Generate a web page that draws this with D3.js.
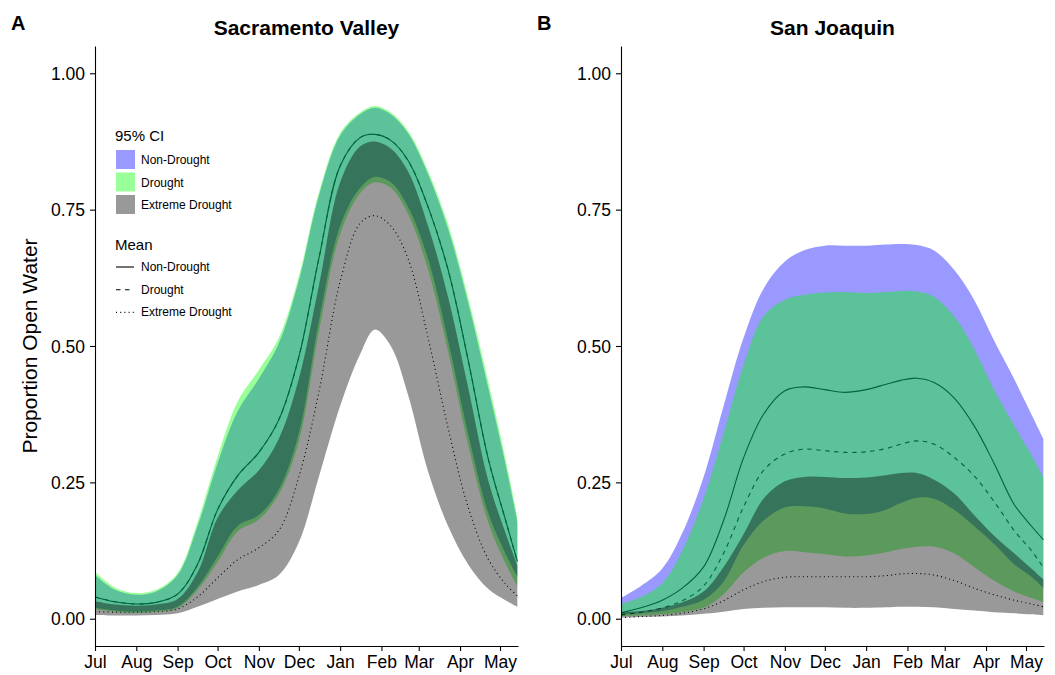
<!DOCTYPE html>
<html>
<head>
<meta charset="utf-8">
<script src="https://cdn.jsdelivr.net/npm/d3@7"></script>
<style>
  body { margin: 0; background: #fff; }
  svg { display: block; }
  text { font-family: "Liberation Sans", Arial, sans-serif; fill: #000; }
</style>
</head>
<body>
<svg width="1055" height="675"></svg>
<script>
const monthLabels = ["Jul", "Aug", "Sep", "Oct", "Nov", "Dec", "Jan", "Feb", "Mar", "Apr", "May"]
const yTicks = [0, 0.25, 0.5, 0.75, 1]
const seasons = ["Non-Drought", "Drought", "Extreme Drought"]
const panelTitles = ["Sacramento Valley", "San Joaquin"]
const panelTags = ["A", "B"]
// days after 1 July at which the curves were read
const sampleDays = [0, 15, 31, 46, 62, 77, 92, 107, 123, 138, 153, 168, 184, 199, 210, 222, 235, 250, 265, 280, 295, 308, 317]

// Sacramento Valley
const sacNonDroughtMean = [0.040, 0.031, 0.027, 0.030, 0.045, 0.100, 0.200, 0.262, 0.305, 0.365, 0.480, 0.660, 0.830, 0.882, 0.888, 0.877, 0.840, 0.755, 0.640, 0.475, 0.295, 0.182, 0.105]
const sacNonDroughtLower = [0.020, 0.015, 0.013, 0.015, 0.022, 0.058, 0.114, 0.170, 0.190, 0.237, 0.340, 0.545, 0.720, 0.790, 0.810, 0.800, 0.755, 0.660, 0.510, 0.340, 0.195, 0.120, 0.077]
const sacNonDroughtUpper = [0.080, 0.053, 0.044, 0.050, 0.080, 0.170, 0.285, 0.380, 0.440, 0.505, 0.620, 0.775, 0.886, 0.925, 0.937, 0.925, 0.890, 0.815, 0.715, 0.580, 0.425, 0.285, 0.178]
const sacDroughtMean = [0.040, 0.031, 0.027, 0.030, 0.045, 0.100, 0.200, 0.262, 0.305, 0.365, 0.480, 0.660, 0.830, 0.882, 0.888, 0.877, 0.840, 0.755, 0.640, 0.475, 0.295, 0.182, 0.105]
const sacDroughtLower = [0.018, 0.013, 0.011, 0.013, 0.019, 0.053, 0.104, 0.160, 0.182, 0.228, 0.325, 0.525, 0.705, 0.780, 0.800, 0.790, 0.742, 0.640, 0.490, 0.320, 0.178, 0.102, 0.060]
const sacDroughtUpper = [0.086, 0.057, 0.047, 0.053, 0.084, 0.178, 0.297, 0.398, 0.456, 0.515, 0.628, 0.781, 0.890, 0.928, 0.940, 0.928, 0.894, 0.821, 0.723, 0.590, 0.437, 0.295, 0.186]
const sacExtremeMean = [0.013, 0.012, 0.012, 0.013, 0.018, 0.040, 0.075, 0.108, 0.130, 0.162, 0.260, 0.415, 0.618, 0.725, 0.739, 0.720, 0.660, 0.515, 0.350, 0.205, 0.110, 0.064, 0.042]
const sacExtremeLower = [0.007, 0.006, 0.006, 0.007, 0.010, 0.022, 0.036, 0.050, 0.062, 0.080, 0.140, 0.260, 0.390, 0.485, 0.530, 0.500, 0.410, 0.270, 0.170, 0.100, 0.055, 0.034, 0.022]
const sacExtremeUpper = [0.032, 0.026, 0.024, 0.026, 0.036, 0.085, 0.185, 0.235, 0.272, 0.330, 0.440, 0.610, 0.800, 0.866, 0.875, 0.862, 0.820, 0.720, 0.590, 0.425, 0.255, 0.158, 0.098]

// San Joaquin
const sjNonDroughtMean = [0.011, 0.020, 0.034, 0.056, 0.095, 0.180, 0.295, 0.375, 0.418, 0.425, 0.420, 0.415, 0.420, 0.430, 0.437, 0.441, 0.433, 0.405, 0.354, 0.285, 0.210, 0.170, 0.145]
const sjNonDroughtLower = [0.008, 0.010, 0.014, 0.022, 0.035, 0.068, 0.135, 0.180, 0.204, 0.206, 0.202, 0.193, 0.192, 0.200, 0.212, 0.222, 0.220, 0.200, 0.170, 0.137, 0.100, 0.077, 0.057]
const sjNonDroughtUpper = [0.038, 0.060, 0.092, 0.157, 0.260, 0.390, 0.515, 0.605, 0.655, 0.676, 0.684, 0.684, 0.684, 0.686, 0.687, 0.685, 0.675, 0.640, 0.585, 0.510, 0.440, 0.375, 0.330]
const sjDroughtMean = [0.007, 0.012, 0.020, 0.033, 0.060, 0.120, 0.205, 0.272, 0.302, 0.311, 0.308, 0.305, 0.306, 0.312, 0.320, 0.326, 0.320, 0.296, 0.262, 0.215, 0.162, 0.125, 0.094]
const sjDroughtLower = [0.005, 0.006, 0.008, 0.012, 0.020, 0.045, 0.085, 0.112, 0.124, 0.122, 0.118, 0.114, 0.116, 0.122, 0.128, 0.132, 0.132, 0.120, 0.095, 0.070, 0.050, 0.038, 0.031]
const sjDroughtUpper = [0.027, 0.040, 0.065, 0.125, 0.220, 0.340, 0.465, 0.555, 0.585, 0.594, 0.598, 0.599, 0.597, 0.599, 0.601, 0.600, 0.590, 0.555, 0.495, 0.420, 0.355, 0.300, 0.260]
const sjExtremeMean = [0.002, 0.004, 0.006, 0.010, 0.018, 0.033, 0.053, 0.068, 0.076, 0.077, 0.077, 0.077, 0.077, 0.079, 0.082, 0.083, 0.080, 0.070, 0.056, 0.044, 0.034, 0.027, 0.022]
const sjExtremeLower = [0.002, 0.003, 0.004, 0.006, 0.009, 0.013, 0.018, 0.020, 0.021, 0.021, 0.021, 0.020, 0.020, 0.021, 0.022, 0.022, 0.021, 0.018, 0.015, 0.012, 0.010, 0.008, 0.006]
const sjExtremeUpper = [0.012, 0.014, 0.020, 0.030, 0.050, 0.095, 0.155, 0.220, 0.252, 0.260, 0.260, 0.258, 0.259, 0.263, 0.267, 0.267, 0.255, 0.230, 0.190, 0.152, 0.120, 0.092, 0.072]

const svg = d3.select("svg")
const width = +svg.attr("width")
const height = +svg.attr("height")

const fills = ["#0000ff", "#00ff00", "#000000"]
const dashes = [null, "4.5,4.5", "1,3.2"]
const panelLefts = [95, 621]
const margin = { top: 46, bottom: 29 }
const innerWidth = 423
const innerHeight = height - margin.top - margin.bottom

const start = new Date(Date.UTC(2014, 6, 1))
const end = new Date(start.getTime() + 317.5 * 864e5)
const dates = sampleDays.map((d) => d3.utcDay.offset(start, d))
const monthTicks = d3.utcMonth.range(start, end)

const xScale = d3.scaleUtc().domain([start, end]).range([0, innerWidth])
const yScale = d3.scaleLinear().domain([-0.05, 1.05]).range([innerHeight, 0])

const panelSeries = [
  {
    mean: [sacNonDroughtMean, sacDroughtMean, sacExtremeMean],
    lower: [sacNonDroughtLower, sacDroughtLower, sacExtremeLower],
    upper: [sacNonDroughtUpper, sacDroughtUpper, sacExtremeUpper]
  },
  {
    mean: [sjNonDroughtMean, sjDroughtMean, sjExtremeMean],
    lower: [sjNonDroughtLower, sjDroughtLower, sjExtremeLower],
    upper: [sjNonDroughtUpper, sjDroughtUpper, sjExtremeUpper]
  }
]

const line = d3
  .line()
  .x((d) => xScale(d.date))
  .y((d) => yScale(d.v))
  .curve(d3.curveCatmullRom)

const area = d3
  .area()
  .x((d) => xScale(d.date))
  .y0((d) => yScale(d.lo))
  .y1((d) => yScale(d.hi))
  .curve(d3.curveCatmullRom)

const renderPanel = (p) => {
  const series = panelSeries[p]
  const g = svg
    .append("g")
    .attr("transform", `translate(${panelLefts[p]},${margin.top})`)

  // means go underneath the ribbons, as in the original
  series.mean.forEach((vals, i) => {
    g.append("path")
      .datum(dates.map((date, j) => ({ date, v: vals[j] })))
      .attr("d", line)
      .attr("fill", "none")
      .attr("stroke", "#000")
      .attr("stroke-width", 1.1)
      .attr("stroke-dasharray", dashes[i])
  })

  series.lower.forEach((lows, i) => {
    g.append("path")
      .datum(dates.map((date, j) => ({ date, lo: lows[j], hi: series.upper[i][j] })))
      .attr("d", area)
      .attr("fill", fills[i])
      .attr("fill-opacity", 0.4)
  })

  const xAxis = d3
    .axisBottom(xScale)
    .tickValues(monthTicks)
    .tickFormat((d, i) => monthLabels[i])
    .tickSize(5)
    .tickSizeOuter(0)
  const yAxis = d3
    .axisLeft(yScale)
    .tickValues(yTicks)
    .tickFormat(d3.format(".2f"))
    .tickSize(5)
    .tickSizeOuter(0)
    .tickPadding(5)

  const xAxisG = g.append("g").attr("transform", `translate(0,${innerHeight})`).call(xAxis)
  const yAxisG = g.append("g").call(yAxis)
  ;[xAxisG, yAxisG].forEach((ax) => {
    ax.selectAll("path, line").attr("stroke", "#000").attr("stroke-width", 1.1)
    ax.selectAll("text")
      .attr("font-size", 17.5)
      .attr("font-family", "Liberation Sans, Arial, sans-serif")
      .attr("fill", "#000")
      .attr("dy", null)
    ax.attr("font-family", null).attr("font-size", null)
  })
  // baselines set directly instead of through em offsets
  xAxisG.selectAll("text").attr("y", 22).attr("text-anchor", "middle")
  yAxisG.selectAll("text").attr("y", 6).attr("text-anchor", "end")

  //title
  svg.append("text")
    .attr("x", panelLefts[p] + innerWidth / 2)
    .attr("y", 35)
    .attr("text-anchor", "middle")
    .attr("font-size", 21)
    .attr("font-weight", "bold")
    .text(panelTitles[p])

  svg.append("text")
    .attr("x", panelLefts[p] - 84)
    .attr("y", 30)
    .attr("font-size", 20)
    .attr("font-weight", "bold")
    .text(panelTags[p])
}

renderPanel(0)
renderPanel(1)

//y label
svg.append("text")
  .attr("transform", `translate(37,${margin.top + innerHeight / 2}) rotate(-90)`)
  .attr("text-anchor", "middle")
  .attr("font-size", 21)
  .text("Proportion Open Water")

//legend
const legend = svg.append("g").attr("transform", "translate(115,0)")
legend.append("text").attr("x", 0).attr("y", 141).attr("font-size", 15).text("95% CI")
seasons.forEach((s, i) => {
  legend.append("rect")
    .attr("x", 1)
    .attr("y", 150 + i * 22.5)
    .attr("width", 19)
    .attr("height", 19)
    .attr("fill", fills[i])
    .attr("fill-opacity", 0.4)
  legend.append("text")
    .attr("x", 26)
    .attr("y", 164 + i * 22.5)
    .attr("font-size", 12)
    .text(s)
})
legend.append("text").attr("x", 0).attr("y", 250).attr("font-size", 15).text("Mean")
seasons.forEach((s, i) => {
  const ly = 267 + i * 22.7
  legend.append("line")
    .attr("x1", 1)
    .attr("x2", 19)
    .attr("y1", ly)
    .attr("y2", ly)
    .attr("stroke", "#000")
    .attr("stroke-width", 1.1)
    .attr("stroke-dasharray", dashes[i])
  legend.append("text")
    .attr("x", 26)
    .attr("y", ly + 4)
    .attr("font-size", 12)
    .text(s)
})
</script>
</body>
</html>
